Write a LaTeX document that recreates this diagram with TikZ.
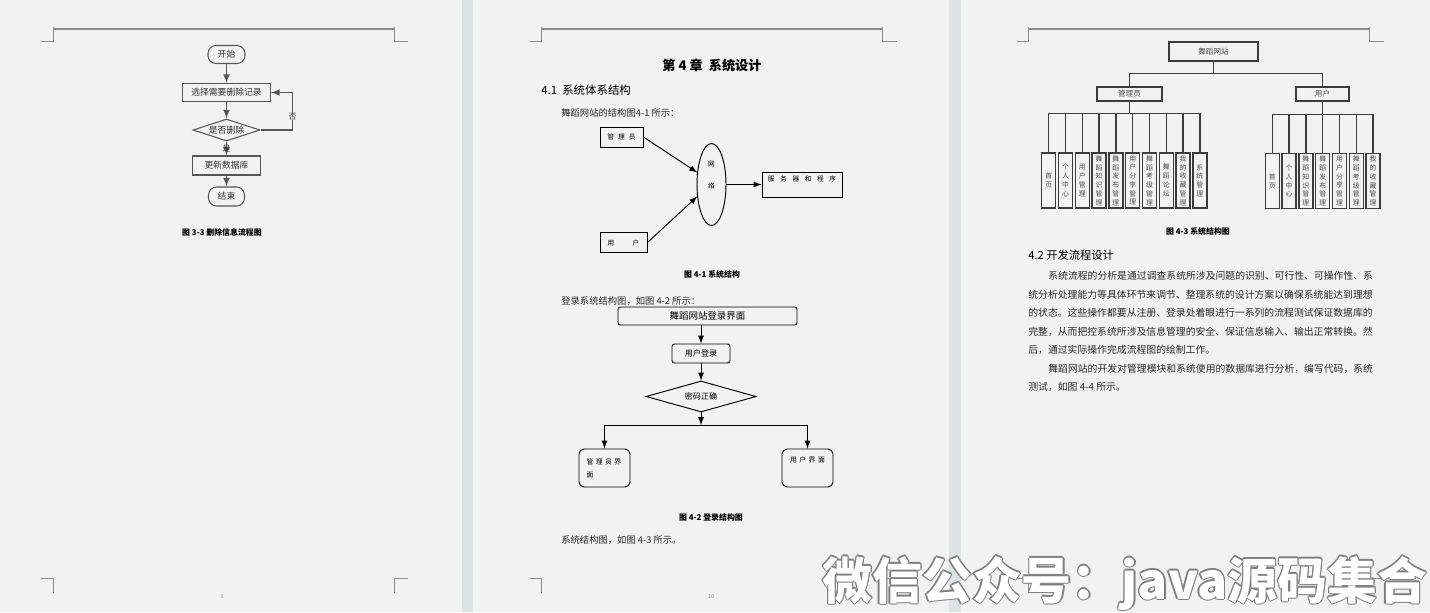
\documentclass[tikz,border=0pt]{standalone}
\usepackage{fontspec}
\setmainfont{Noto Sans CJK SC}
\usetikzlibrary{shapes.geometric}

\newdimen\pxu \pxu=0.02cm
\definecolor{pagebg}{HTML}{F2F2F2}
\definecolor{gapband}{HTML}{DCE3E5}
\definecolor{flowline}{HTML}{555555}
\definecolor{marks}{HTML}{8C8C8C}
\definecolor{treeline}{HTML}{3C3C3C}

% glue between CJK characters, so that a line can be set to a given width
\XeTeXinterchartoks 1 1={\hskip0pt plus 1pt minus 0.5pt}
\XeTeXinterchartoks 1 3={\hskip0pt plus 1pt minus 0.5pt}
\XeTeXinterchartoks 3 1={\hskip0pt plus 1pt minus 0.5pt}
\newcommand\jline[2]{\makebox[#1][s]{\XeTeXinterchartokenstate=1 #2}}

\begin{document}
\begin{tikzpicture}[x=0.02cm, y=-0.02cm, >=latex,
  flow/.style={draw=flowline, line width=0.6pt, inner sep=0pt, text=black!80,
    font=\fontsize{5pt}{6pt}\selectfont},
  term/.style={flow, rounded corners=8\pxu, minimum width=37\pxu, minimum height=18\pxu},
  proc/.style={flow, minimum height=18\pxu},
  cond/.style={flow, diamond, aspect=3},
  fline/.style={draw=flowline, line width=0.7pt},
  sbox/.style={draw, line width=0.55pt, inner sep=0pt, font=\fontsize{3.8pt}{4.5pt}\selectfont},
  lbox/.style={draw, line width=0.55pt, inner sep=0pt, rounded corners=2.5\pxu,
    font=\fontsize{4.6pt}{5.5pt}\selectfont},
  arr/.style={->, line width=0.55pt},
  tbox/.style={draw=treeline, line width=0.8pt, inner sep=0pt, text=black!70,
    font=\fontsize{4.3pt}{5pt}\selectfont},
  leaf/.style={tbox, minimum width=14\pxu, minimum height=55\pxu, align=center,
    font=\fontsize{3.9pt}{5pt}\selectfont},
  tline/.style={draw=treeline, line width=0.8pt},
  figcap/.style={font=\fontsize{4.5pt}{5pt}\selectfont\bfseries},
  body/.style={anchor=west, inner sep=0pt, text=black!85, font=\fontsize{5.3pt}{6pt}\selectfont},
  para/.style={body, font=\fontsize{5.6pt}{6pt}\selectfont},
  head/.style={anchor=west, inner sep=0pt, font=\fontsize{6.5pt}{7pt}\selectfont},
  cropmark/.style={draw=marks, line width=0.5pt},
  wm/.style={anchor=base west, inner sep=0pt, font=\fontsize{28.4pt}{30pt}\selectfont\bfseries}]

\fill[pagebg] (0,0) rectangle (1430,612);
\fill[gapband] (462,0) rectangle (473,612);
\fill[gapband] (949,0) rectangle (961,612);
\useasboundingbox (0,0) rectangle (1430,612);

% page corners and header rules
\foreach \dx in {0,488.5,975.5} {
  \draw[cropmark] (41+\dx,41) -- (53+\dx,41) -- (53+\dx,27);
  \draw[cropmark, line width=0.8pt] (53+\dx,29) -- (394+\dx,29);
  \draw[cropmark] (394+\dx,27) -- (394+\dx,41) -- (408+\dx,41);
  \draw[cropmark] (41+\dx,578) -- (53+\dx,578) -- (53+\dx,593);
  \draw[cropmark] (394+\dx,593) -- (394+\dx,578) -- (408+\dx,578);
}
\node[font=\fontsize{3pt}{3pt}\selectfont, text=marks] (pg9) at (222,597) {9};
\node[font=\fontsize{3pt}{3pt}\selectfont, text=marks] (pg10) at (711,597) {10};

% page 9: delete flow
\node[term] (start) at (226.5,54.5) {开始};
\node[proc, minimum width=88\pxu] (choose) at (226.5,92.5) {选择需要删除记录};
\node[cond, minimum width=67\pxu, minimum height=22\pxu] (isdel) at (226.5,130) {是否删除};
\node[proc, minimum width=68\pxu, minimum height=19\pxu] (update) at (226.5,165.5) {更新数据库};
\node[term, minimum width=36\pxu, minimum height=19\pxu] (stop) at (226.5,196.5) {结束};
\draw[fline, ->] (start) -- (choose);
\draw[fline, ->] (choose) -- (isdel);
\draw[fline, ->] (isdel) -- node[font=\fontsize{4.5pt}{5pt}\selectfont, text=black!80, inner sep=0pt] (yes) {是} (update);
\draw[fline, ->] (update) -- (stop);
\draw[fline, ->] (isdel.east) -- ++(32,0) |- node[pos=0.18, fill=pagebg, inner sep=0.3pt,
  font=\fontsize{4.5pt}{5pt}\selectfont, text=black!80] (no) {否} (choose.east);
\node[figcap] (cap33) at (222,232) {图 3-3 删除信息流程图};

% page 10: chapter head and system structure
\node[font=\fontsize{7.5pt}{8pt}\selectfont\bfseries] (ch4) at (712,65) {第 4 章\ \ 系统设计};
\node[head] (sec41) at (541,90) {4.1\ \ 系统体系结构};
\node[body] (p41) at (561,113) {舞蹈网站的结构图4-1 所示：};
\node[sbox, minimum width=43\pxu, minimum height=20\pxu] (admin) at (621.5,137)
  {管\hspace{2.3pt}理\hspace{2.3pt}员};
\node[sbox, minimum width=47\pxu, minimum height=20\pxu] (user) at (623.5,242.5)
  {用\hspace{10.5pt}户};
\node[ellipse, draw, line width=0.55pt, inner sep=0pt, minimum width=29\pxu, minimum height=82\pxu,
  label={[font=\fontsize{3.8pt}{12.5pt}\selectfont, align=center, yshift=0.18cm]center:网\\络}]
  (net) at (711.5,184.5) {};
\node[sbox, minimum width=80\pxu, minimum height=25\pxu, text height=5\pxu, text depth=11\pxu]
  (server) at (802,184.5) {服\hspace{3.2pt}务\hspace{3.2pt}器\hspace{3.2pt}和\hspace{3.2pt}程\hspace{3.2pt}序};
\draw[arr] (admin.east) -- (net.140);
\draw[arr] (user.east) -- (net.220);
\draw[arr] (net.east) -- (server.west);
\node[figcap] (cap41) at (712,274) {图 4-1 系统结构};

% page 10: login structure
\node[body] (p42) at (561,301) {登录系统结构图，如图 4-2 所示：};
\node[lbox, minimum width=179\pxu, minimum height=18\pxu, font=\fontsize{5.4pt}{6pt}\selectfont]
  (loginpage) at (707.5,316) {舞蹈网站登录界面};
\node[lbox, minimum width=58\pxu, minimum height=19\pxu] (userlogin) at (701,353.5) {用户登录};
\node[lbox, diamond, sharp corners, aspect=3.5, minimum width=110\pxu, minimum height=31\pxu]
  (pwd) at (701,396.5) {密码正确};
\node[lbox, rounded corners=5\pxu, minimum width=51\pxu, minimum height=38\pxu, text width=36\pxu,
  align=left, font=\fontsize{3.9pt}{7.4pt}\selectfont] (adminui) at (604.5,468)
  {管\hspace{1.4pt}理\hspace{1.4pt}员\hspace{1.4pt}界\\面};
\node[lbox, rounded corners=5\pxu, minimum width=51\pxu, minimum height=38\pxu,
  text height=5\pxu, text depth=16\pxu, font=\fontsize{3.9pt}{5pt}\selectfont] (userui) at (807.5,468)
  {用\hspace{1.4pt}户\hspace{1.4pt}界\hspace{1.4pt}面};
\coordinate (fork) at (701,425);
\draw[arr] (loginpage.south -| userlogin.north) -- (userlogin.north);
\draw[arr] (userlogin) -- (pwd);
\draw[arr] (pwd.south) -- (fork);
\draw[arr] (fork) -| (adminui.north);
\draw[arr] (fork) -| (userui.north);
\node[figcap] (cap42) at (711,517) {图 4-2 登录结构图};
\node[body] (p43) at (561,540) {系统结构图，如图 4-3 所示。};

% page 11: function tree
\node[tbox, minimum width=89\pxu, minimum height=19\pxu] (site) at (1213.5,51.5) {舞蹈网站};
\node[tbox, minimum width=65\pxu, minimum height=14\pxu] (mgr) at (1129.5,94) {管理员};
\node[tbox, minimum width=53\pxu, minimum height=14\pxu] (usr) at (1322.5,94) {用户};
\draw[tline] (site.south) -- ++(0,11.5) -| (mgr.north);
\draw[tline] (site.south) -- ++(0,11.5) -| (usr.north);
\foreach \t [count=\i] in {首\\页, 个\\人\\中\\心, 用\\户\\管\\理, 舞\\蹈\\知\\识\\管\\理,
    舞\\蹈\\发\\布\\管\\理, 用\\户\\分\\享\\管\\理, 舞\\蹈\\考\\级\\管\\理, 舞\\蹈\\论\\坛,
    我\\的\\收\\藏\\管\\理, 系\\统\\管\\理} {
  \node[leaf] (m\i) at (1031.9+16.8*\i, 180.5) {\t};
  \draw[tline] (mgr.south) -- ++(0,12) -| (m\i.north);
}
\foreach \t [count=\i] in {首\\页, 个\\人\\中\\心, 舞\\蹈\\知\\识\\管\\理, 舞\\蹈\\发\\布\\管\\理,
    用\\户\\分\\享\\管\\理, 舞\\蹈\\考\\级\\管\\理, 我\\的\\收\\藏\\管\\理} {
  \node[leaf] (u\i) at (1255.5+16.8*\i, 181) {\t};
  \draw[tline] (usr.south) -- ++(0,13) -| (u\i.north);
}
\node[figcap] (cap43) at (1198,231) {图 4-3 系统结构图};

% page 11: text
\node[head, font=\fontsize{6.4pt}{7pt}\selectfont] (sec42) at (1028,255) {4.2 开发流程设计};
\node[para] (l1) at (1048,276) {\jline{320\pxu}{系统流程的分析是通过调查系统所涉及问题的识别、可行性、可操作性、系}};
\node[para] (l2) at (1028,294.5) {\jline{340\pxu}{统分析处理能力等具体环节来调节、整理系统的设计方案以确保系统能达到理想}};
\node[para] (l3) at (1028,313) {\jline{340\pxu}{的状态。这些操作都要从注册、登录处着眼进行一系列的流程测试保证数据库的}};
\node[para] (l4) at (1028,331.5) {\jline{340\pxu}{完整，从而把控系统所涉及信息管理的安全、保证信息输入、输出正常转换。然}};
\node[para] (l5) at (1028,350) {后，通过实际操作完成流程图的绘制工作。};
\node[para] (l6) at (1048,368.5) {\jline{320\pxu}{舞蹈网站的开发对管理模块和系统使用的数据库进行分析，编写代码，系统}};
\node[para] (l7) at (1028,387) {测试，如图 4-4 所示。};

% watermark
\foreach \ox/\oy in {-1.3/0, 1.3/0, 0/-1.3, 0/1.3, -0.9/-0.9, 0.9/0.9, -0.9/0.9, 0.9/-0.9}
  \node[wm, text=black!50] (wmo) at (822+\ox,599+\oy) {微信公众号：java源码集合};
\node[wm, text=white] (wmark) at (822,599) {微信公众号：java源码集合};
\end{tikzpicture}
\end{document}
